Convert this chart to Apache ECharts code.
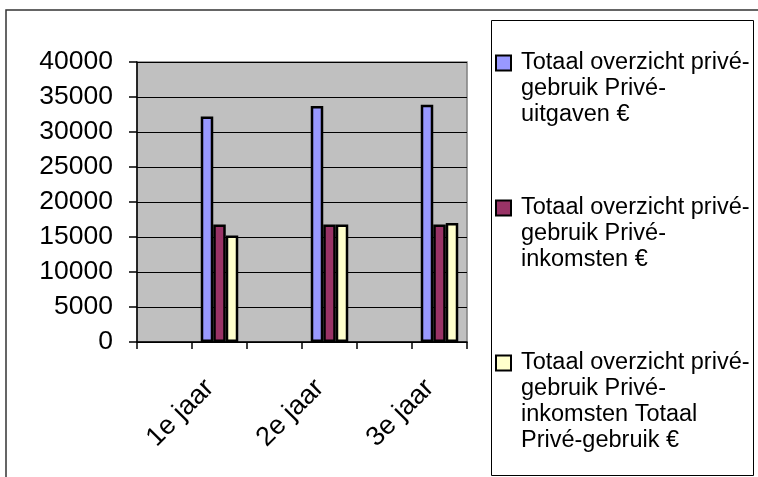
<!DOCTYPE html>
<html>
<head>
<meta charset="utf-8">
<script src="https://cdn.jsdelivr.net/npm/echarts@6/dist/echarts.min.js"></script>
<style>html,body{margin:0;padding:0;background:#fff}#c{width:758px;height:477px}</style>
</head>
<body>
<div id="c"></div>
<script>
// categories (6 slots, data in every other one)
var categories = ["", "1e jaar", "", "2e jaar", "", "3e jaar"];
var seriesNames = [
  "Totaal overzicht privé-gebruik Privé-uitgaven €",
  "Totaal overzicht privé-gebruik Privé-inkomsten €",
  "Totaal overzicht privé-gebruik Privé-inkomsten Totaal Privé-gebruik €"
];
var legendLines = [
  ["Totaal overzicht privé-", "gebruik Privé-", "uitgaven €"],
  ["Totaal overzicht privé-", "gebruik Privé-", "inkomsten €"],
  ["Totaal overzicht privé-", "gebruik Privé-", "inkomsten Totaal", "Privé-gebruik €"]
];
var uitgaven = [null, 32200, null, 33700, null, 33900];
var inkomsten = [null, 16800, null, 16800, null, 16800];
var totaalPrive = [null, 15200, null, 16800, null, 17000];
var yTicks = { min: 0, max: 40000, interval: 5000 };

var colors = ["#9999FF", "#993366", "#FFFFCC"];
var seriesData = [uitgaven, inkomsten, totaalPrive];
var FONT = "'Liberation Sans', Arial, sans-serif";
var LH = 26;
var legendCenters = [63, 208, 363];

function legendText(name) {
  var lines = legendLines[seriesNames.indexOf(name)];
  var blanks = [];
  for (var k = 0; k < lines.length - 1; k++) blanks.push(' ');
  return blanks.concat(lines).join('\n');
}

var legends = seriesNames.map(function (n, i) {
  var lines = legendLines[i].length;
  var boxH = (2 * lines - 1) * LH;
  return {
    show: true,
    orient: 'vertical',
    left: 495,
    top: legendCenters[i] - boxH / 2,
    padding: 0,
    icon: 'rect',
    itemWidth: 15,
    itemHeight: 15,
    selectedMode: false,
    data: [n],
    formatter: legendText,
    textStyle: { fontFamily: FONT, fontSize: 23.5, color: '#000', lineHeight: LH, padding: [0, 0, 0, 5] }
  };
});

var chart = echarts.init(document.getElementById('c'), null, { renderer: 'canvas' });
chart.setOption({
  animation: false,
  backgroundColor: '#fff',
  graphic: [
    { type: 'rect', shape: { x: 6, y: 10, width: 800, height: 500 }, style: { fill: 'none', stroke: '#333', lineWidth: 1.5 }, z: -1 },
    { type: 'rect', shape: { x: 491.5, y: 20.5, width: 262, height: 455 }, style: { fill: '#fff', stroke: '#000', lineWidth: 1 }, z: -1 }
  ],
  legend: legends,
  grid: {
    left: 137, right: 291, top: 62, bottom: 135,
    show: true, backgroundColor: '#C0C0C0', borderColor: '#808080', borderWidth: 1.5
  },
  xAxis: {
    type: 'category',
    data: categories,
    boundaryGap: true,
    axisLine: { lineStyle: { color: '#000', width: 1.5 } },
    axisTick: { show: true, inside: false, length: 7, interval: 0, lineStyle: { color: '#000', width: 1.5 } },
    axisLabel: {
      interval: 0, rotate: 45, margin: 32, color: '#000',
      fontFamily: FONT, fontSize: 27, padding: [0, 14, 0, 0]
    },
    splitLine: { show: false }
  },
  yAxis: {
    type: 'value',
    min: yTicks.min, max: yTicks.max, interval: yTicks.interval,
    axisLine: { show: true, lineStyle: { color: '#000', width: 1.5 } },
    axisTick: { show: true, length: 8, lineStyle: { color: '#000', width: 1.5 } },
    axisLabel: { margin: 24, color: '#000', fontFamily: FONT, fontSize: 26.5, formatter: function (v) { return String(v); } },
    splitLine: { show: true, lineStyle: { color: '#000', width: 1 } }
  },
  series: seriesNames.map(function (n, i) {
    return {
      name: n,
      type: 'bar',
      data: seriesData[i],
      barWidth: 12.5,
      barGap: '0%',
      itemStyle: { color: colors[i], borderColor: '#000', borderWidth: 2.5 }
    };
  })
});
</script>
</body>
</html>
